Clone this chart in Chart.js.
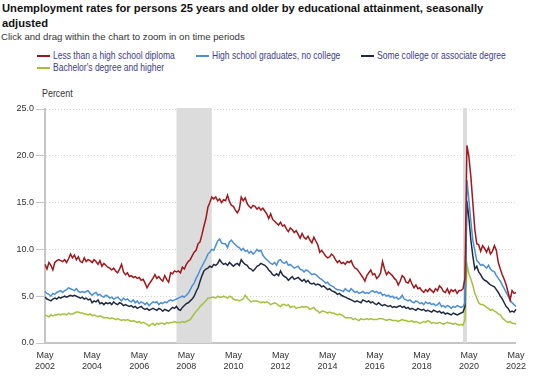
<!DOCTYPE html>
<html><head><meta charset="utf-8">
<script src="https://cdn.jsdelivr.net/npm/chart.js@4/dist/chart.umd.min.js"></script>
<style>
body{margin:0;background:#fff;width:533px;height:378px;overflow:hidden;position:relative;font-family:"Liberation Sans",Arial,sans-serif}
#title{position:absolute;left:2px;top:1px;font-weight:bold;font-size:11.2px;line-height:15px;color:#111;width:528px}
#sub{position:absolute;left:1px;top:31px;font-size:9.6px;color:#333;white-space:nowrap}
.leg{position:absolute;font-size:10.4px;line-height:12px;color:#3d3d8a;white-space:nowrap;transform:scaleX(0.82);transform-origin:0 50%}
.mk{position:absolute;height:2px}
#pct{position:absolute;left:42px;top:87px;font-size:10.6px;color:#333;white-space:nowrap;transform:scaleX(0.84);transform-origin:0 50%}
#wrap{position:absolute;left:0;top:0;width:533px;height:378px}
</style></head>
<body>
<div id="title">Unemployment rates for persons 25 years and older by educational attainment, seasonally adjusted</div>
<div id="sub">Click and drag within the chart to zoom in on time periods</div>
<div id="legend"></div>
<div id="pct">Percent</div>
<div id="wrap"><canvas id="c" width="533" height="378"></canvas></div>
<script>
const seriesNames = ["Less than a high school diploma","High school graduates, no college","Some college or associate degree","Bachelor's degree and higher"];
const seriesColors = ["#a0171c","#4a8fd8","#1f2a40","#a3c23c"];
const monthNames = ["Jan","Feb","Mar","Apr","May","Jun","Jul","Aug","Sep","Oct","Nov","Dec"];
const yTicks = [0,5,10,15,20,25];
const recessions = [["Dec 2007","Jun 2009"],["Feb 2020","Apr 2020"]];

// May 2002 .. May 2022, monthly
const lessThanHS = [
 8.4,7.9,8.6,8.3,7.8,8.6,8.8,8.9,
 8.8,8.7,8.9,8.6,9.0,9.5,9.1,9.4,8.9,9.2,8.7,8.6,
 9.1,8.7,8.9,8.8,8.6,8.9,8.7,8.4,8.8,8.2,8.5,8.3,
 8.1,8.0,7.8,8.0,7.7,7.5,7.9,8.4,7.6,7.3,7.5,7.1,
 7.2,7.0,7.1,6.9,7.0,6.7,6.8,6.4,5.9,6.3,6.6,6.9,
 7.3,6.9,7.1,6.8,6.6,7.2,6.8,6.5,7.5,7.4,7.7,7.6,
 7.7,7.5,8.1,7.9,8.4,8.7,8.9,9.3,9.7,9.9,10.6,10.8,
 11.6,12.5,13.3,14.5,15.0,15.6,15.4,15.6,15.2,15.4,15.0,15.3,
 15.2,15.8,15.1,14.7,14.6,14.2,13.9,14.3,15.6,15.2,15.5,14.9,
 14.6,14.4,14.7,14.6,14.3,14.5,14.2,14.4,14.1,13.8,13.3,13.8,
 13.2,13.0,12.8,12.6,12.9,12.5,12.6,12.2,11.9,12.3,12.1,11.8,
 12.0,11.6,11.2,11.7,11.3,11.1,11.4,11.0,10.7,11.3,10.9,10.5,
 9.7,9.9,9.6,9.3,9.1,9.2,9.5,9.3,8.9,8.6,8.8,8.5,
 8.6,8.4,8.7,8.6,8.8,8.3,8.0,7.9,7.6,7.3,7.0,6.6,
 7.2,7.5,7.8,7.3,7.4,6.9,7.1,7.5,8.7,7.9,7.3,7.6,
 7.4,7.2,6.9,6.7,6.2,6.6,7.2,7.0,6.5,6.4,6.8,6.3,
 5.9,6.2,5.8,5.9,5.6,5.4,5.7,5.5,5.8,5.6,5.4,5.8,
 5.6,6.1,5.9,5.5,5.4,5.8,5.3,5.7,5.5,5.7,5.3,5.6,
 5.6,5.8,6.9,21.1,19.9,17.8,15.0,12.2,10.6,10.5,9.8,10.4,
 10.1,9.7,10.2,9.5,9.8,10.4,9.9,8.6,7.9,7.3,6.8,6.2,
 5.4,4.6,5.6,5.3,5.4
];
const highSchool = [
 5.5,5.3,5.2,5.0,5.3,5.2,5.4,5.5,
 5.6,5.4,5.6,5.7,5.9,5.8,5.7,5.6,5.8,5.5,5.4,5.5,
 5.4,5.5,5.6,5.3,5.1,5.3,5.4,5.1,5.2,5.0,4.9,5.1,
 5.0,4.8,4.9,4.7,4.8,4.9,4.7,4.5,4.8,4.6,4.7,4.5,
 4.4,4.6,4.3,4.5,4.2,4.4,4.3,4.1,4.3,4.0,4.2,4.4,
 4.3,4.4,4.1,4.3,4.2,4.4,4.3,4.5,4.6,4.5,4.6,4.7,
 4.8,4.9,5.0,4.9,5.1,5.3,5.7,6.1,6.4,6.9,7.3,7.8,
 8.2,8.6,9.0,9.5,9.7,10.0,9.9,10.4,10.9,11.1,10.7,10.6,
 10.6,10.2,10.8,11.0,10.7,10.5,10.3,10.2,9.9,10.1,9.8,9.9,
 9.6,9.8,9.5,9.7,10.0,9.8,9.9,9.4,9.1,8.9,8.7,8.5,
 8.4,8.6,8.3,8.8,8.9,8.6,8.5,8.7,8.3,8.4,8.2,8.0,
 8.1,8.2,7.9,7.8,7.6,7.8,7.7,7.5,7.3,7.4,7.3,7.1,
 6.9,6.8,6.6,6.4,6.5,6.2,6.1,6.0,5.8,5.7,5.7,5.6,
 5.5,5.8,5.6,5.5,5.8,5.6,5.4,5.5,5.3,5.4,5.5,5.3,
 5.4,5.3,5.5,5.6,5.4,5.5,5.3,5.4,5.1,5.2,5.0,5.1,
 4.9,5.0,4.8,4.9,4.7,4.8,5.1,4.7,4.6,4.5,4.6,4.4,
 4.3,4.5,4.4,4.2,4.3,4.1,4.4,4.2,4.3,4.1,4.2,4.0,
 4.1,4.3,3.9,4.0,3.8,4.0,3.9,3.7,3.9,3.8,4.0,3.9,
 3.8,3.9,4.3,17.4,15.3,13.0,11.0,9.9,8.8,8.6,8.3,8.4,
 8.2,8.0,8.3,7.9,7.7,7.6,7.2,6.9,6.6,6.2,5.8,5.4,
 5.0,4.6,4.3,4.1,3.9
];
const someCollege = [
 4.9,4.7,4.6,4.5,4.7,4.8,4.7,4.9,
 4.8,4.9,5.0,4.9,5.0,5.1,5.0,5.1,5.0,4.9,4.8,4.9,
 4.7,4.8,4.6,4.7,4.3,4.5,4.4,4.6,4.2,4.3,4.1,4.3,
 4.2,4.3,4.1,4.4,4.2,4.1,4.3,4.2,4.0,4.1,4.0,3.9,
 4.0,3.8,3.9,3.7,3.8,3.9,3.7,3.6,3.7,3.5,3.6,3.7,
 3.6,3.5,3.7,3.6,3.4,3.6,3.5,3.4,3.6,3.8,3.7,3.9,
 3.6,3.5,3.8,4.0,4.2,4.3,4.5,4.7,5.0,5.5,5.9,6.6,
 7.2,7.7,7.9,8.0,8.2,8.1,8.4,8.3,8.5,8.9,8.6,8.4,
 8.5,8.3,8.6,8.4,8.2,8.4,8.5,8.3,8.9,8.6,8.4,8.3,
 8.0,7.9,7.7,7.9,8.2,8.3,8.5,8.4,8.3,8.1,7.8,7.6,
 7.3,7.2,7.4,7.2,7.7,7.3,7.1,7.0,6.7,6.9,7.1,6.8,
 6.9,7.0,6.8,6.6,6.8,6.5,6.7,6.4,6.3,6.4,6.2,6.3,
 6.2,6.0,6.1,5.9,5.7,5.8,5.6,5.5,5.4,5.2,5.3,5.1,
 5.0,4.9,4.8,4.7,4.6,4.5,4.4,4.5,4.4,4.3,4.6,4.5,
 4.4,4.5,4.3,4.4,4.2,4.1,4.3,4.1,4.0,4.1,4.0,3.9,
 4.0,3.8,3.9,3.8,3.9,4.0,3.8,3.9,3.7,3.8,3.6,3.7,
 3.6,3.5,3.7,3.6,3.5,3.6,3.4,3.5,3.4,3.3,3.5,3.4,
 3.3,3.4,3.2,3.3,3.1,3.2,3.1,3.0,3.2,3.1,3.0,3.1,
 3.2,3.3,3.9,15.2,13.4,11.0,9.3,7.9,8.2,7.6,7.3,6.9,
 6.7,6.6,6.4,6.2,6.1,6.0,5.7,5.4,5.0,4.7,4.3,3.9,
 3.7,3.3,3.4,3.3,3.6
];
const bachelors = [
 3.0,2.9,2.8,3.0,2.9,3.0,3.0,3.1,
 3.0,3.1,3.1,3.0,3.2,3.1,3.1,3.2,3.3,3.3,3.2,3.2,
 3.1,3.1,3.0,3.1,2.9,3.0,2.9,2.8,2.9,2.8,2.7,2.7,
 2.7,2.6,2.7,2.6,2.5,2.6,2.5,2.4,2.5,2.4,2.5,2.4,
 2.3,2.4,2.3,2.2,2.3,2.1,2.2,2.1,2.0,1.8,2.0,2.1,
 1.9,2.1,2.0,2.1,2.1,2.0,2.2,2.1,2.2,2.2,2.3,2.2,
 2.2,2.2,2.3,2.2,2.3,2.4,2.5,2.8,3.1,3.4,3.6,3.9,
 4.1,4.3,4.5,4.8,4.8,4.9,4.9,4.8,5.0,4.9,4.9,5.0,
 4.9,4.8,5.0,4.9,4.7,4.6,4.6,4.5,4.6,4.7,5.1,4.8,
 4.6,4.4,4.5,4.5,4.5,4.4,4.3,4.4,4.3,4.4,4.3,4.1,
 4.2,4.3,4.2,4.0,3.9,4.1,4.1,4.0,4.1,3.8,3.9,3.9,
 3.7,3.8,3.8,3.9,3.8,3.9,3.8,3.6,3.7,3.8,3.5,3.4,
 3.2,3.4,3.4,3.3,3.2,3.3,3.2,3.2,3.1,3.0,3.1,3.0,
 2.9,2.7,2.7,2.7,2.7,2.5,2.6,2.5,2.4,2.6,2.5,2.5,
 2.6,2.5,2.6,2.5,2.5,2.5,2.6,2.6,2.6,2.5,2.4,2.5,
 2.5,2.4,2.4,2.4,2.3,2.4,2.5,2.4,2.4,2.3,2.3,2.4,
 2.2,2.3,2.2,2.1,2.2,2.3,2.2,2.4,2.3,2.1,2.2,2.1,
 2.1,2.2,2.1,2.0,2.1,2.2,2.1,2.1,2.0,2.1,2.0,1.9,
 2.0,1.9,2.5,8.4,7.4,6.8,6.2,5.3,4.8,4.3,4.1,4.1,
 4.0,3.8,3.7,3.5,3.6,3.4,3.3,3.1,3.0,2.7,2.5,2.3,
 2.2,2.3,2.1,2.1,2.0
];

const months = [];
for (let i = 0; i < lessThanHS.length; i++) {
  const m = (4 + i) % 12, y = 2002 + Math.floor((4 + i) / 12);
  months.push(monthNames[m] + " " + y);
}
const allSeries = [lessThanHS, highSchool, someCollege, bachelors];

// legend (HTML)
const legPos = [[37,50],[196,50],[361,50],[37,62]];
const lg = document.getElementById('legend');
seriesNames.forEach((n,i)=>{
  const [x,y] = legPos[i];
  const mk = document.createElement('div'); mk.className='mk';
  mk.style.cssText = `left:${x}px;top:${y+5}px;width:13px;background:${seriesColors[i]}`;
  const t = document.createElement('div'); t.className='leg';
  t.style.left = (x+16)+'px'; t.style.top = y+'px'; t.textContent = n;
  lg.appendChild(mk); lg.appendChild(t);
});

const tickFont = {family:'"Liberation Sans",Arial,sans-serif', size:9};

const bands = {
  id:'bands',
  beforeDatasetsDraw(c){
    const {ctx, chartArea:a, scales:{x}} = c;
    ctx.save(); ctx.fillStyle = '#dcdcdc';
    recessions.forEach(([s,e])=>{
      const x1 = x.getPixelForValue(months.indexOf(s)), x2 = x.getPixelForValue(months.indexOf(e));
      ctx.fillRect(x1, a.top - 1, x2 - x1, a.bottom - a.top + 1);
    });
    ctx.restore();
  }
};

new Chart(document.getElementById('c'), {
  type:'line',
  data:{labels:months, datasets: allSeries.map((d,i)=>({
    label:seriesNames[i], data:d, borderColor:seriesColors[i], backgroundColor:seriesColors[i],
    borderWidth:1.5, pointRadius:0, tension:0, fill:false, order:i
  }))},
  options:{
    responsive:false, animation:false, events:[],
    layout:{padding:{top:109,right:14,left:0,bottom:0}},
    plugins:{legend:{display:false}, tooltip:{enabled:false}, title:{display:false}},
    scales:{
      x:{
        type:'category', offset:false,
        grid:{display:false, drawTicks:false},
        border:{display:true, color:'#c6c6c6', width:2},
        ticks:{autoSkip:false, maxRotation:0, minRotation:0, padding:7, color:'#333', font:tickFont,
          callback:(v,i)=> (i % 24 === 0) ? ['May', String(2002 + i/12)] : null},
        afterFit:s=>{s.height = 35;}
      },
      y:{
        min:0, max:25,
        afterBuildTicks:s=>{s.ticks = yTicks.map(v=>({value:v}));},
        grid:{color:'#d4d4d4', lineWidth:1, drawTicks:true, tickLength:9, tickColor:'#c6c6c6'},
        border:{display:true, color:'#c6c6c6', width:2, dash:[1,2]},
        ticks:{padding:2, color:'#333', font:tickFont, callback:v=>Number(v).toFixed(1)},
        afterFit:s=>{s.width = 45;}
      }
    }
  },
  plugins:[bands]
});
</script>
</body></html>
